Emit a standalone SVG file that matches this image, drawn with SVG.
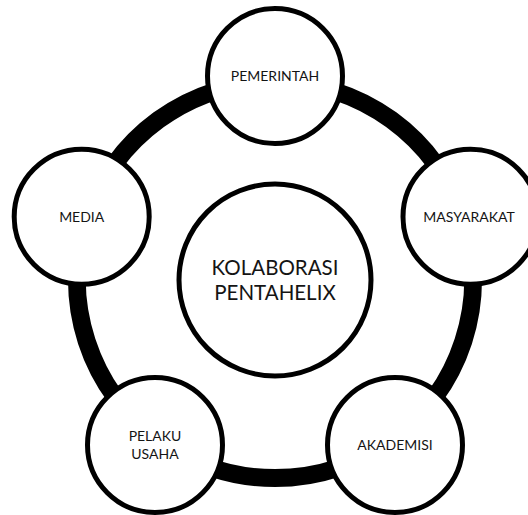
<svg xmlns="http://www.w3.org/2000/svg" width="528" height="515" viewBox="0 0 528 515">
<style>
.ring{fill:none;stroke:#000;stroke-width:18}
.node{fill:#fff;stroke:#000;stroke-width:5}
.lbl{font-family:Lato,"Liberation Sans",sans-serif;font-size:14px;fill:#141414;text-anchor:middle}
.big{font-size:20.5px}
</style>
<rect width="528" height="515" fill="#fff"/>
<g id="connectors">
<path class="ring" d="M275,82 A198,198 0 0 1 463.3,218.8"/>
<path class="ring" d="M463.3,218.8 A198,198 0 0 1 391.4,440.2"/>
<path class="ring" d="M391.4,440.2 A198,198 0 0 1 158.6,440.2"/>
<path class="ring" d="M158.6,440.2 A198,198 0 0 1 86.7,218.8"/>
<path class="ring" d="M86.7,218.8 A198,198 0 0 1 275,82"/>
</g>
<g id="kolaborasi">
<circle class="node" cx="275" cy="280" r="96"/>
<text class="lbl big" x="275" y="275">KOLABORASI</text>
<text class="lbl big" x="275" y="300">PENTAHELIX</text>
</g>
<g id="pemerintah">
<circle class="node" cx="275" cy="76" r="67.5"/>
<text class="lbl" x="275" y="81">PEMERINTAH</text>
</g>
<g id="masyarakat">
<circle class="node" cx="470.5" cy="216.7" r="67.5"/>
<text class="lbl" x="469" y="222">MASYARAKAT</text>
</g>
<g id="akademisi">
<circle class="node" cx="395" cy="445" r="67.5"/>
<text class="lbl" x="395" y="450">AKADEMISI</text>
</g>
<g id="pelaku-usaha">
<circle class="node" cx="155" cy="445" r="67.5"/>
<text class="lbl" x="155" y="441">PELAKU</text>
<text class="lbl" x="155" y="459">USAHA</text>
</g>
<g id="media">
<circle class="node" cx="81.7" cy="216.7" r="67.5"/>
<text class="lbl" x="81.7" y="222">MEDIA</text>
</g>
</svg>
